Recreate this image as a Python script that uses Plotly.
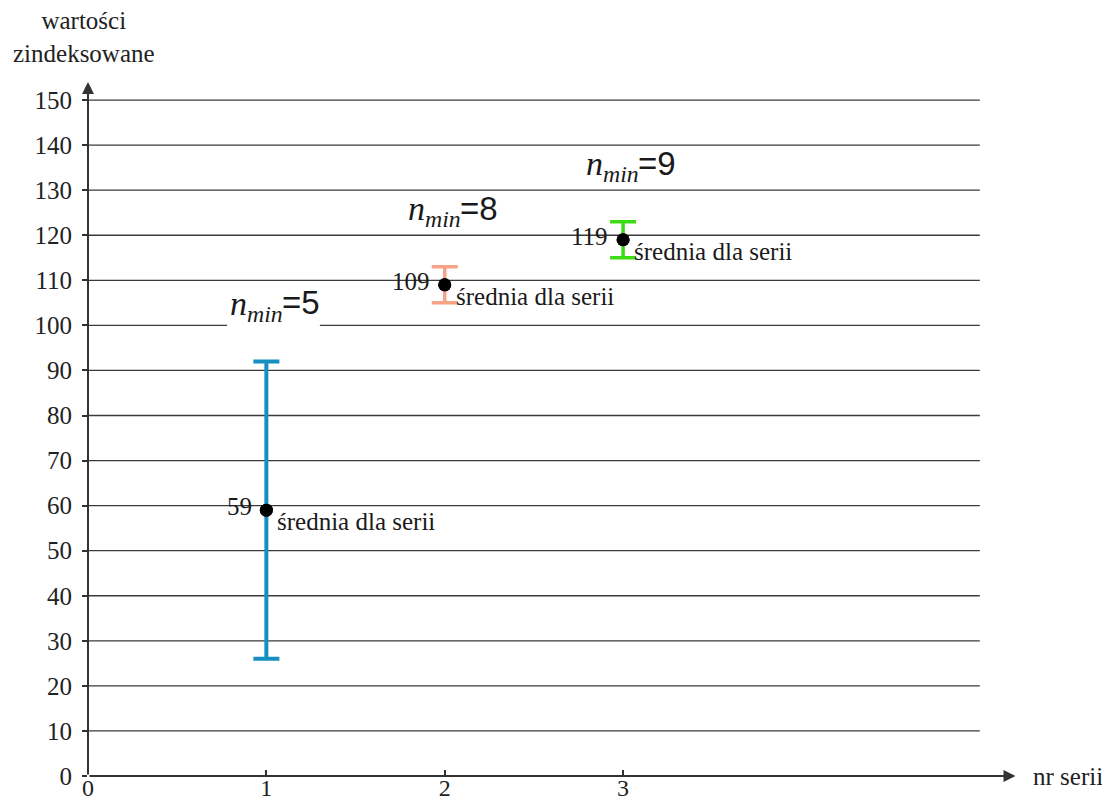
import plotly.graph_objects as go

# ---- data ----
series = [1, 2, 3]
means = [59, 109, 119]
lows = [26, 105, 115]
highs = [92, 113, 123]
n_min = [5, 8, 9]
colors = ["#1590c0", "#f8a287", "#3cdc14"]
bar_widths = [4, 3.5, 3.5]
y_ticks = list(range(0, 160, 10))
x_ticks = [0, 1, 2, 3]

SERIF = "Liberation Serif"
SANS = "Liberation Sans"
TXT = "#1a1a1a"
X_MAX = 5.5
Y_MAX = 160

fig = go.Figure()

# error bars per series
for s, m, lo, hi, c, w in zip(series, means, lows, highs, colors, bar_widths):
    fig.add_trace(go.Scatter(
        x=[s], y=[m], mode="markers",
        marker=dict(color="black", size=13),
        error_y=dict(type="data", symmetric=False,
                     array=[hi - m], arrayminus=[m - lo],
                     color=c, thickness=w, width=13),
        showlegend=False, hoverinfo="skip", cliponaxis=False,
    ))

# black dots on top
fig.add_trace(go.Scatter(x=series, y=means, mode="markers",
                         marker=dict(color="black", size=13),
                         showlegend=False, hoverinfo="skip"))

# horizontal gridlines (x 0..5)
for t in y_ticks[1:]:
    fig.add_shape(type="line", x0=0, x1=5, y0=t, y1=t, xref="x", yref="y",
                  line=dict(color="#3a3a3a", width=1.3), layer="below")

# white backing boxes behind the n_min labels
for s, hi in zip(series, highs):
    fig.add_shape(type="rect", x0=s - 0.22, x1=s + 0.3,
                  y0=hi + 12.3 - 4.5, y1=hi + 12.3 + 4.5, xref="x", yref="y",
                  line=dict(width=0), fillcolor="white", layer="below")

annotations = []
for s, m, hi, n in zip(series, means, highs, n_min):
    annotations.append(dict(
        x=s - 0.072, y=m + 0.7, xref="x", yref="y", text=str(m), showarrow=False,
        xanchor="right", yanchor="middle",
        font=dict(family=SERIF, size=25, color=TXT)))
    annotations.append(dict(
        x=s + 0.05, y=m - 2.6, xref="x", yref="y", text="średnia dla serii",
        showarrow=False, xanchor="left", yanchor="middle",
        font=dict(family=SERIF, size=25, color=TXT)))
    # n_min label: italic serif part + sans "=n" part
    annotations.append(dict(
        x=s + 0.103, y=hi + 12.3, xref="x", yref="y",
        text="<i>n</i><sub><i>min</i></sub>",
        showarrow=False, xanchor="right", yanchor="middle",
        font=dict(family=SERIF, size=34, color=TXT)))
    annotations.append(dict(
        x=s + 0.075, y=hi + 13.0, xref="x", yref="y",
        text=f"={n}",
        showarrow=False, xanchor="left", yanchor="middle",
        font=dict(family=SANS, size=33, color=TXT)))

# axis arrows
annotations.append(dict(x=5.2, y=0, ax=0, ay=0, xref="x", yref="y",
                        axref="x", ayref="y", text="", showarrow=True,
                        arrowhead=2, arrowsize=1.2, arrowwidth=2,
                        arrowcolor="#333"))
annotations.append(dict(x=0, y=154, ax=0, ay=0, xref="x", yref="y",
                        axref="x", ayref="y", text="", showarrow=True,
                        arrowhead=2, arrowsize=1.2, arrowwidth=2,
                        arrowcolor="#333"))

# axis titles (paper coordinates, outside the plotting range)
annotations.append(dict(x=-0.02 / X_MAX, y=163.9 / Y_MAX, xref="paper", yref="paper",
                        text="wartości<br>zindeksowane", showarrow=False,
                        xanchor="center", yanchor="middle", align="center",
                        font=dict(family=SERIF, size=25, color="#222")))
annotations.append(dict(x=5.285, y=0, xref="x", yref="y", text="nr serii",
                        showarrow=False, xanchor="left", yanchor="middle",
                        font=dict(family=SERIF, size=25, color="#222")))

fig.update_layout(
    width=1094, height=793,
    margin=dict(l=80, r=33, t=47, b=25),
    paper_bgcolor="white", plot_bgcolor="white",
    annotations=annotations,
    xaxis=dict(range=[0, X_MAX], tickvals=x_ticks, ticktext=[str(v) for v in x_ticks],
               showgrid=False, zeroline=False, showline=False, automargin=False,
               ticks="inside", ticklen=6, tickcolor="#333", tickwidth=1.5,
               ticklabelstandoff=-5,
               tickfont=dict(family=SERIF, size=24, color="#222")),
    yaxis=dict(range=[0, Y_MAX], tickvals=y_ticks, showgrid=False, zeroline=False,
               showline=False, automargin=False, ticks="outside", ticklen=5,
               tickcolor="#333", tickwidth=1.5, ticklabelstandoff=5,
               tickfont=dict(family=SERIF, size=25, color="#222")),
)

fig.write_html("out.html")
